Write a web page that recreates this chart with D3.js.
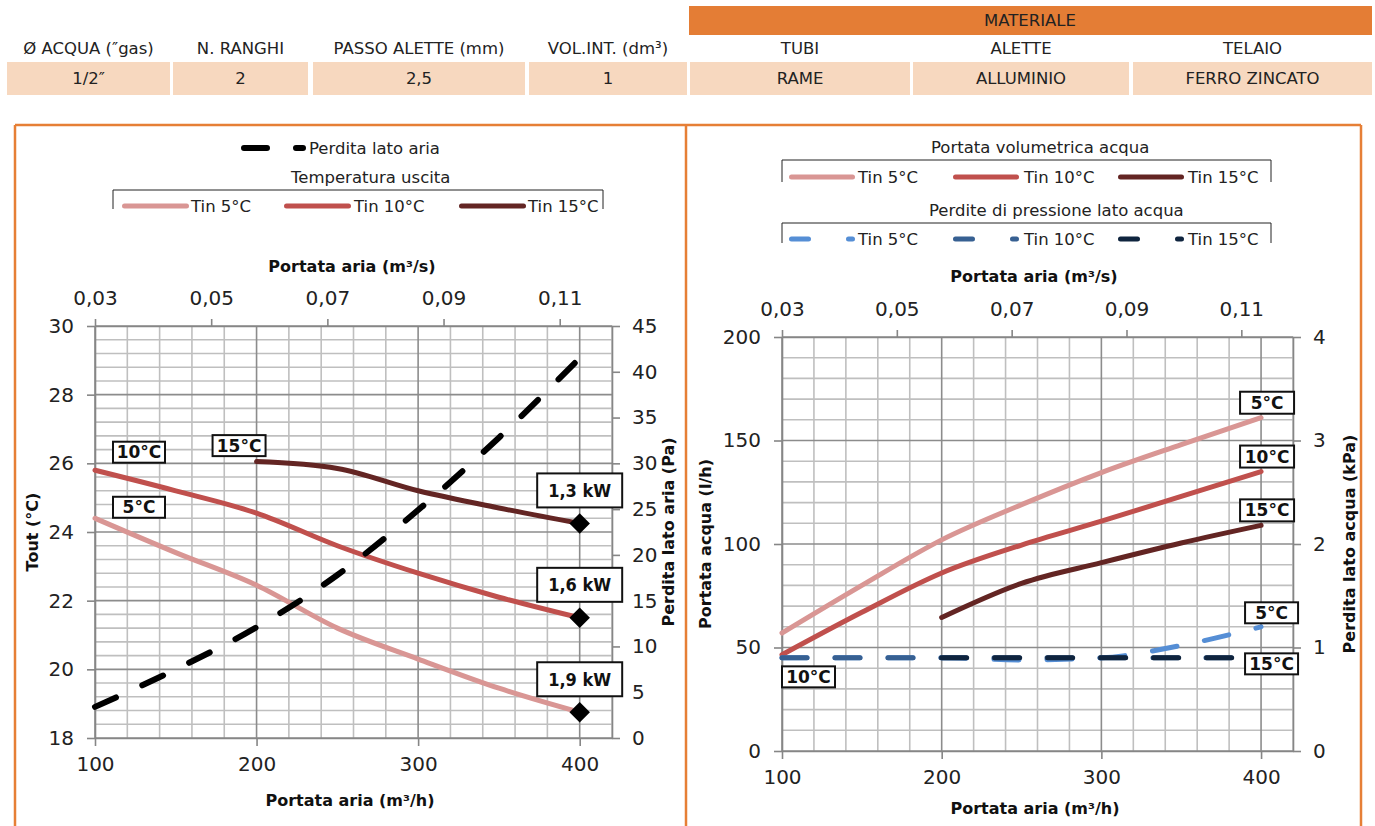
<!DOCTYPE html>
<html><head><meta charset="utf-8">
<script src="https://cdn.jsdelivr.net/npm/d3@7"></script>
<style>
body{margin:0;background:#fff}
svg{display:block}
</style>
</head><body>
<svg id="c" width="1375" height="826"></svg>
<script>
// ---------------- DATA ----------------
const headerLabels = ["Ø ACQUA (″gas)", "N. RANGHI", "PASSO ALETTE (mm)", "VOL.INT. (dm³)", "TUBI", "ALETTE", "TELAIO"];
const headerValues = ["1/2″", "2", "2,5", "1", "RAME", "ALLUMINIO", "FERRO ZINCATO"];
const materialTitle = "MATERIALE";

const airFlow = [100, 150, 200, 250, 300, 350, 400];        // m3/h
const airFlow15 = [200, 250, 300, 350, 400];
const xTicks = [100, 200, 300, 400];
const topTicks = [0.03, 0.05, 0.07, 0.09, 0.11];             // m3/s

// left chart: outlet temperature (°C) and air-side pressure drop (Pa)
const toutTin5 = [24.4, 23.4, 22.45, 21.2, 20.3, 19.45, 18.75];
const toutTin10 = [25.8, 25.2, 24.55, 23.6, 22.8, 22.1, 21.5];
const toutTin15 = [26.05, 25.85, 25.2, 24.7, 24.25];
const airPressureDrop = [3.4, 7.5, 12.1, 17.8, 24.9, 32.8, 41.5];
const capacityLabels = ["1,3 kW", "1,6 kW", "1,9 kW"];
const leftYTicks = [18, 20, 22, 24, 26, 28, 30];
const leftY2Ticks = [0, 5, 10, 15, 20, 25, 30, 35, 40, 45];

// right chart: water flow (l/h) and water-side pressure drop (kPa)
const waterFlowTin5 = [57, 80, 102, 119, 134.5, 148, 161];
const waterFlowTin10 = [46.5, 67, 86, 99.5, 111, 123, 135];
const waterFlowTin15 = [64.5, 81, 91, 100.5, 109];
const waterDropTin5 = [0.9, 0.9, 0.9, 0.88, 0.9, 1.02, 1.2];
const waterDropTin10 = [0.9, 0.9, 0.9, 0.9, 0.9, 0.9, 0.9];
const waterDropTin15 = [0.9, 0.9, 0.9, 0.9, 0.9];
const rightYTicks = [0, 50, 100, 150, 200];
const rightY2Ticks = [0, 1, 2, 3, 4];

// ---------------- STYLE / LAYOUT ----------------
const FONT = "'DejaVu Sans', sans-serif";
const FONT_C = "'DejaVu Sans Condensed', 'DejaVu Sans', sans-serif";
const C5 = "#D99694", C10 = "#C0504D", C15 = "#632523";
const B5 = "#558ED5", B10 = "#376092", B15 = "#0F243E";
const ORANGE = "#E67F36", PEACH = "#F7D8BF";
const GRID_MINOR = "#BFBFBF", GRID_MAJOR = "#8C8C8C", AXIS = "#868686";
const TXT = "#222";

const svg = d3.select("#c");
const it = d3.formatLocale({decimal: ",", thousands: ".", grouping: [3], currency: ["", "€"]});
const fmt2 = it.format(".2f");
const fmtInt = d3.format("d");

// ---------------- HEADER TABLE ----------------
const cellEdges = [[7,170],[173,308],[313,525],[529,687],[690,910],[913,1129],[1133,1372]];
svg.append("rect").attr("x", 689).attr("y", 6).attr("width", 683).attr("height", 29).attr("fill", "#E47D35");
svg.append("text").attr("x", 1030).attr("y", 26).attr("text-anchor", "middle")
  .attr("font-family", FONT).attr("font-size", 16.5).attr("fill", TXT).text(materialTitle);
headerLabels.forEach((t, i) => {
  const cx = (cellEdges[i][0] + cellEdges[i][1]) / 2;
  svg.append("text").attr("x", cx).attr("y", 54).attr("text-anchor", "middle")
    .attr("font-family", FONT).attr("font-size", 16.5).attr("fill", TXT).text(t);
});
headerValues.forEach((t, i) => {
  const [a, b] = cellEdges[i];
  svg.append("rect").attr("x", a).attr("y", 62).attr("width", b - a).attr("height", 33).attr("fill", PEACH);
  svg.append("text").attr("x", (a + b) / 2).attr("y", 84).attr("text-anchor", "middle")
    .attr("font-family", FONT).attr("font-size", 16.5).attr("fill", TXT).text(t);
});

// ---------------- PANEL FRAMES ----------------
const frame = svg.append("g").attr("stroke", ORANGE).attr("stroke-width", 2.5).attr("fill", "none");
frame.append("line").attr("x1", 15).attr("x2", 1361).attr("y1", 125).attr("y2", 125);
[15, 686, 1361].forEach(xx => frame.append("line").attr("x1", xx).attr("x2", xx).attr("y1", 125).attr("y2", 826));

// ---------------- PANEL HELPER ----------------
function drawPanel(p, yDom, yMinorStep, yMajorStep, y2Dom, yT, y2T) {
  const xDom = [100, 420];
  const x = d3.scaleLinear().domain(xDom).range([p.l, p.r]);
  const xt = d3.scaleLinear().domain([0.03, 0.119]).range([p.l, p.r]);
  const y = d3.scaleLinear().domain(yDom).range([p.b, p.t]);
  const y2 = d3.scaleLinear().domain(y2Dom).range([p.b, p.t]);
  const g = svg.append("g");

  const nx = Math.round((xDom[1] - xDom[0]) / 20);
  const xs = d3.range(nx + 1).map(i => xDom[0] + i * 20);
  const ny = Math.round((yDom[1] - yDom[0]) / yMinorStep);
  const ys = d3.range(ny + 1).map(i => yDom[0] + i * yMinorStep);
  const isMajX = v => Math.abs(v % 100) < 1e-6;
  const isMajY = v => { const q = (v - yDom[0]) / yMajorStep; return Math.abs(q - Math.round(q)) < 1e-6; };

  const grid = g.append("g");
  grid.selectAll(".vmin").data(xs.filter(v => !isMajX(v))).join("line")
    .attr("x1", d => x(d)).attr("x2", d => x(d)).attr("y1", p.t).attr("y2", p.b)
    .attr("stroke", GRID_MINOR).attr("stroke-width", 1.6);
  grid.selectAll(".hmin").data(ys.filter(v => !isMajY(v))).join("line")
    .attr("y1", d => y(d)).attr("y2", d => y(d)).attr("x1", p.l).attr("x2", p.r)
    .attr("stroke", GRID_MINOR).attr("stroke-width", 1.6);
  grid.selectAll(".vmaj").data(xs.filter(v => isMajX(v))).join("line")
    .attr("x1", d => x(d)).attr("x2", d => x(d)).attr("y1", p.t).attr("y2", p.b)
    .attr("stroke", GRID_MAJOR).attr("stroke-width", 1.6);
  grid.selectAll(".hmaj").data(ys.filter(v => isMajY(v))).join("line")
    .attr("y1", d => y(d)).attr("y2", d => y(d)).attr("x1", p.l).attr("x2", p.r)
    .attr("stroke", GRID_MAJOR).attr("stroke-width", 1.6);

  const style = sel => {
    sel.attr("font-family", FONT).attr("font-size", 20);
    sel.select(".domain").attr("stroke", AXIS).attr("stroke-width", 1.6);
    sel.selectAll(".tick line").attr("stroke", AXIS).attr("stroke-width", 1.6);
    sel.selectAll(".tick text").attr("fill", TXT);
  };
  g.append("g").attr("transform", `translate(${p.l},0)`)
    .call(d3.axisLeft(y).tickValues(yT).tickFormat(fmtInt).tickSize(8).tickSizeOuter(0).tickPadding(13)).call(style);
  g.append("g").attr("transform", `translate(${p.r},0)`)
    .call(d3.axisRight(y2).tickValues(y2T).tickFormat(fmtInt).tickSize(8).tickSizeOuter(0).tickPadding(12)).call(style);
  g.append("g").attr("transform", `translate(0,${p.b})`)
    .call(d3.axisBottom(x).tickValues(xTicks).tickFormat(fmtInt).tickSize(8).tickSizeOuter(0).tickPadding(11)).call(style);
  g.append("g").attr("transform", `translate(0,${p.t})`)
    .call(d3.axisTop(xt).tickValues(topTicks).tickFormat(fmt2).tickSize(7).tickSizeOuter(0).tickPadding(14)).call(style);
  return {x, y, y2, g};
}

function title(txt, xx, yy, rot) {
  const t = svg.append("text").attr("font-family", FONT).attr("font-weight", "bold").attr("font-size", 16)
    .attr("fill", "#111").attr("text-anchor", "middle").text(txt);
  if (rot) t.attr("transform", `translate(${xx},${yy}) rotate(-90)`).attr("dominant-baseline", "central");
  else t.attr("x", xx).attr("y", yy);
}

function boxLabel(cx, cy, w, h, txt, fs, fam) {
  svg.append("rect").attr("x", cx - w / 2).attr("y", cy - h / 2).attr("width", w).attr("height", h)
    .attr("fill", "#fff").attr("stroke", "#111").attr("stroke-width", 2);
  svg.append("text").attr("x", cx).attr("y", cy).attr("text-anchor", "middle").attr("dominant-baseline", "central")
    .attr("font-family", fam || FONT).attr("font-weight", "bold").attr("font-size", fs).attr("fill", "#111").text(txt);
}

function series(g, xs, vals, xS, yS, color, width, dash) {
  const line = d3.line().x(d => xS(d[0])).y(d => yS(d[1])).curve(d3.curveMonotoneX);
  const pth = g.append("path").datum(d3.zip(xs, vals)).attr("d", line).attr("fill", "none")
    .attr("stroke", color).attr("stroke-width", width).attr("stroke-linecap", "round").attr("stroke-linejoin", "round");
  if (dash) pth.attr("stroke-dasharray", dash);
  return pth;
}

// ---------------- LEFT CHART ----------------
const L = drawPanel({l: 95, r: 612, t: 326, b: 738}, [18, 30], 0.4, 2, [0, 45], leftYTicks, leftY2Ticks);
series(L.g, airFlow, toutTin5, L.x, L.y, C5, 5);
series(L.g, airFlow, toutTin10, L.x, L.y, C10, 5);
series(L.g, airFlow15, toutTin15, L.x, L.y, C15, 5);
series(L.g, airFlow, airPressureDrop, L.x, L.y2, "#000", 6, "23,29");
// diamonds at last points
const lastVals = [toutTin15[toutTin15.length - 1], toutTin10[toutTin10.length - 1], toutTin5[toutTin5.length - 1]];
const lastX = airFlow[airFlow.length - 1];
lastVals.forEach((v, i) => {
  L.g.append("path").attr("d", d3.symbol(d3.symbolSquare, 210)())
    .attr("transform", `translate(${L.x(lastX)},${L.y(v)}) rotate(45)`).attr("fill", "#000");
  boxLabel(L.x(lastX), L.y(v) - 33, 85, 34, capacityLabels[i], 18, FONT_C);
});
boxLabel(L.x(airFlow[0]) + 44, L.y(toutTin10[0]) - 18, 52, 21, "10°C", 17);
boxLabel(L.x(airFlow[0]) + 44, L.y(toutTin5[0]) - 11, 52, 21, "5°C", 17);
boxLabel(L.x(airFlow15[0]) - 17.5, L.y(toutTin15[0]) - 16, 53, 21, "15°C", 17);

title("Portata aria (m³/s)", 352, 272);
title("Portata aria (m³/h)", 350, 806);
title("Tout (°C)", 32, 532, true);
title("Perdita lato aria (Pa)", 668, 532, true);

// left legend
const lg = svg.append("g").attr("font-family", FONT).attr("font-size", 16.5).attr("fill", TXT);
lg.append("path").attr("d", "M244,148H303").attr("stroke", "#000").attr("stroke-width", 6)
  .attr("stroke-linecap", "round").attr("stroke-dasharray", "23,29");
lg.append("text").attr("x", 309).attr("y", 154).text("Perdita lato aria");
lg.append("text").attr("x", 291).attr("y", 183).text("Temperatura uscita");
lg.append("path").attr("d", "M113,209V190H603V209").attr("fill", "none").attr("stroke", "#222").attr("stroke-width", 1);
[[124.5, C5, "Tin 5°C", 191], [286.5, C10, "Tin 10°C", 354], [461.5, C15, "Tin 15°C", 528]].forEach(([x0, c, t, tx]) => {
  lg.append("line").attr("x1", x0).attr("x2", x0 + 62).attr("y1", 206).attr("y2", 206)
    .attr("stroke", c).attr("stroke-width", 5).attr("stroke-linecap", "round");
  lg.append("text").attr("x", tx).attr("y", 212).text(t);
});

// ---------------- RIGHT CHART ----------------
const R = drawPanel({l: 782, r: 1293, t: 337, b: 751}, [0, 200], 10, 50, [0, 4], rightYTicks, rightY2Ticks);
series(R.g, airFlow, waterFlowTin5, R.x, R.y, C5, 5);
series(R.g, airFlow, waterFlowTin10, R.x, R.y, C10, 5);
series(R.g, airFlow15, waterFlowTin15, R.x, R.y, C15, 5);
series(R.g, airFlow, waterDropTin5, R.x, R.y2, B5, 5, "25,28");
series(R.g, airFlow, waterDropTin10, R.x, R.y2, B10, 5, "25,28");
series(R.g, airFlow15, waterDropTin15, R.x, R.y2, B15, 5, "25,28");

const li = airFlow.length - 1, li15 = airFlow15.length - 1;
boxLabel(R.x(airFlow[li]) + 6, R.y(waterFlowTin5[li]) - 15, 54, 22, "5°C", 17);
boxLabel(R.x(airFlow[li]) + 6, R.y(waterFlowTin10[li]) - 15, 54, 22, "10°C", 17);
boxLabel(R.x(airFlow15[li15]) + 6, R.y(waterFlowTin15[li15]) - 15, 54, 22, "15°C", 17);
boxLabel(R.x(airFlow[li]) + 10.5, R.y2(waterDropTin5[li]) - 14, 53, 21, "5°C", 17);
boxLabel(R.x(airFlow15[li15]) + 10.5, R.y2(waterDropTin15[li15]) + 6, 53, 21, "15°C", 17);
boxLabel(R.x(airFlow[0]) + 26.5, R.y2(waterDropTin10[0]) + 19, 53, 21, "10°C", 17);

title("Portata aria (m³/s)", 1034, 282);
title("Portata aria (m³/h)", 1035, 814);
title("Portata acqua (l/h)", 705, 544, true);
title("Perdita lato acqua (kPa)", 1349, 544, true);

// right legend
const rg = svg.append("g").attr("font-family", FONT).attr("font-size", 16.5).attr("fill", TXT);
rg.append("text").attr("x", 931).attr("y", 153).text("Portata volumetrica acqua");
rg.append("path").attr("d", "M782,182V160H1271V182").attr("fill", "none").attr("stroke", "#222").attr("stroke-width", 1);
[[791.5, C5, "Tin 5°C", 858], [955.5, C10, "Tin 10°C", 1024], [1120.5, C15, "Tin 15°C", 1188]].forEach(([x0, c, t, tx]) => {
  rg.append("line").attr("x1", x0).attr("x2", x0 + 61).attr("y1", 177).attr("y2", 177)
    .attr("stroke", c).attr("stroke-width", 5).attr("stroke-linecap", "round");
  rg.append("text").attr("x", tx).attr("y", 183).text(t);
});
rg.append("text").attr("x", 929).attr("y", 216).text("Perdite di pressione lato acqua");
rg.append("path").attr("d", "M782,243V223H1271V243").attr("fill", "none").attr("stroke", "#222").attr("stroke-width", 1);
[[791.5, B5, "Tin 5°C", 858], [955.5, B10, "Tin 10°C", 1024], [1120.5, B15, "Tin 15°C", 1188]].forEach(([x0, c, t, tx]) => {
  rg.append("line").attr("x1", x0).attr("x2", x0 + 61).attr("y1", 239).attr("y2", 239)
    .attr("stroke", c).attr("stroke-width", 5).attr("stroke-linecap", "round").attr("stroke-dasharray", "17,40");
  rg.append("text").attr("x", tx).attr("y", 245).text(t);
});
</script>
</body></html>
